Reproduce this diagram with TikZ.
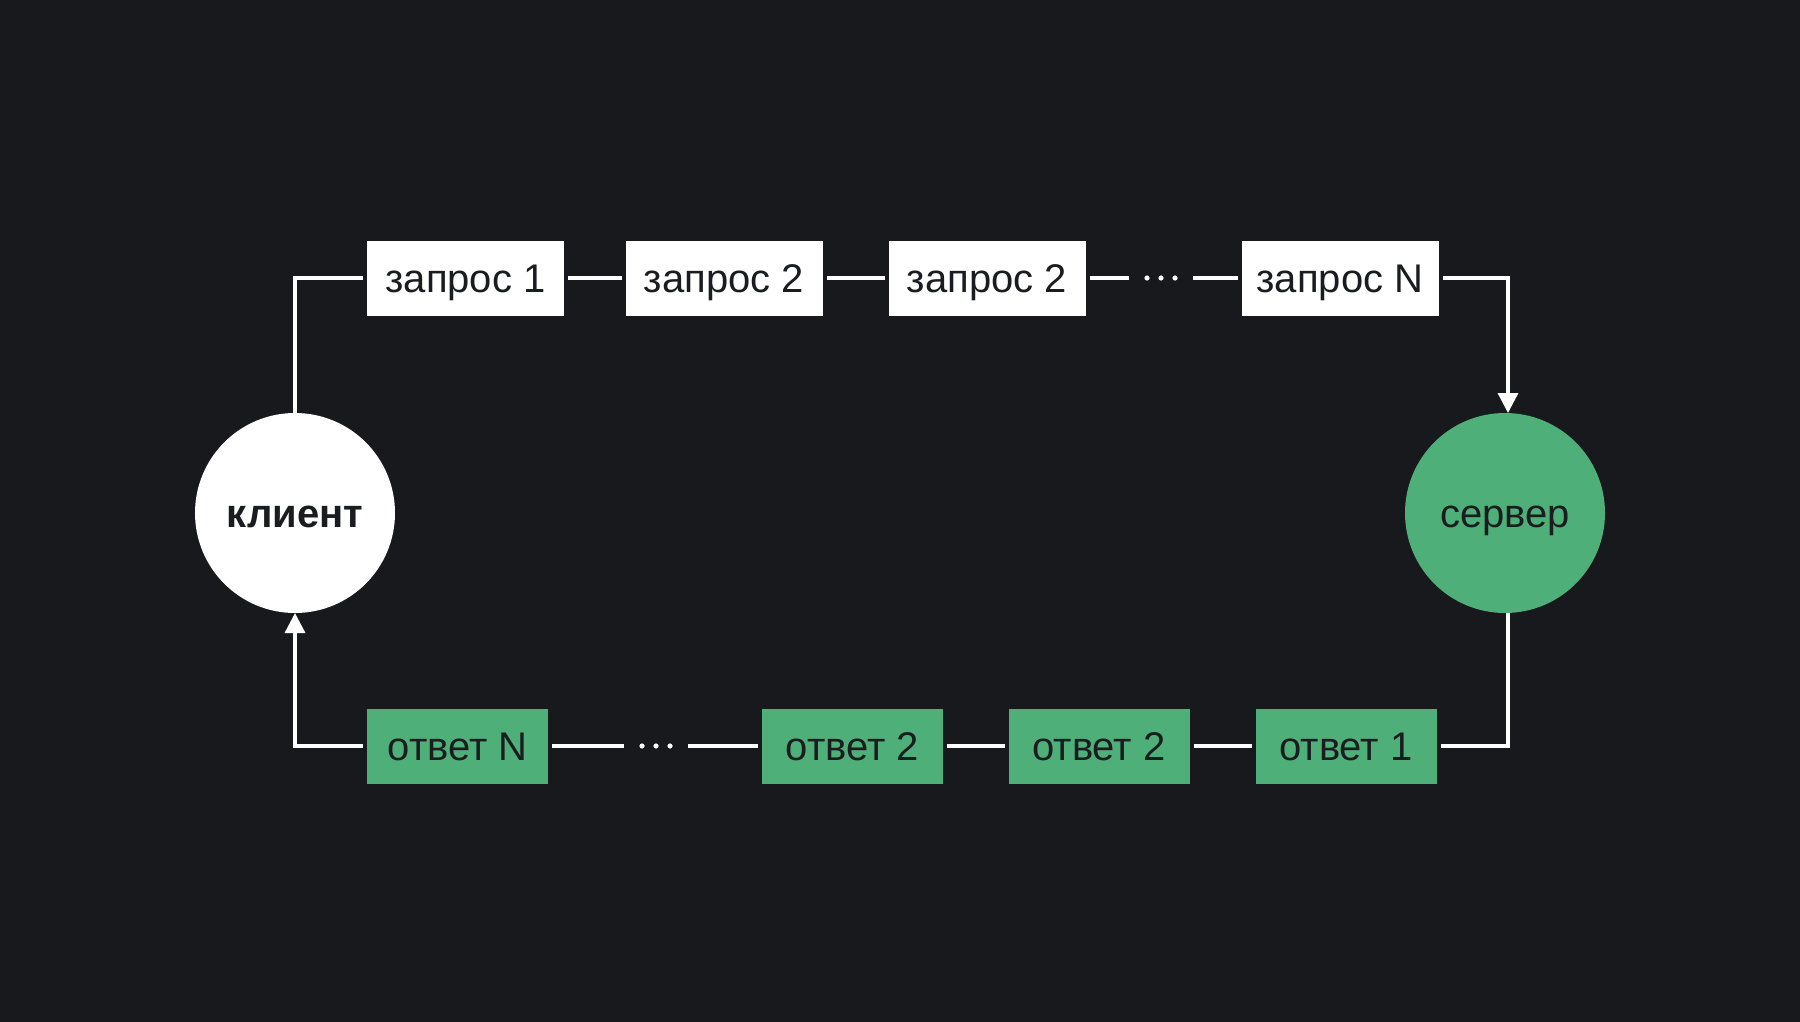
\documentclass[tikz,border=0pt]{standalone}
\usepackage{fontspec}
\setmainfont{Liberation Sans}
\usetikzlibrary{arrows.meta}
\definecolor{bgdark}{HTML}{18191D}
\definecolor{okgreen}{HTML}{4FAF78}
\definecolor{inkdark}{HTML}{1B1C20}

\begin{document}
\begin{tikzpicture}[x=0.5pt,y=-0.5pt,
  wire/.style={white, line width=1.65pt},
  tip/.style={-{Triangle[width=10pt,length=10pt]}},
  label font/.style={font=\fontsize{20}{24}\selectfont, text=inkdark, text height=14.5pt, text depth=0pt},
  reqbox/.style={label font, fill=white, minimum width=98.5pt, minimum height=37.5pt, inner sep=0pt, outer sep=2pt},
  ansbox/.style={label font, fill=okgreen, minimum width=90.5pt, minimum height=37.5pt, inner sep=0pt, outer sep=2pt},
  peer/.style={label font, circle, minimum size=100pt, inner sep=0pt, outer sep=0pt},
  gapdots/.style={minimum width=28pt, minimum height=4pt, inner sep=0pt, outer sep=2pt}
]

% Background
\fill[bgdark] (0,0) rectangle (1800,1022);

% Client and server
\node[peer, fill=white, font=\fontsize{20}{24}\selectfont\bfseries] (client) at (295,513) {клиент};
\node[peer, fill=okgreen] (server) at (1505,513) {сервер};

% Requests
\node[reqbox] (q1) at (465.5,278) {запрос 1};
\node[reqbox] (q2) at (724,278) {запрос 2};
\node[reqbox] (q3) at (987,278) {запрос 2};
\node[gapdots] (dq) at (1161,278) {};
\node[reqbox] (qn) at (1340,278) {запрос N};

% Responses
\node[ansbox] (an) at (457.5,746) {ответ N};
\node[gapdots] (da) at (656,746) {};
\node[ansbox] (a2a) at (852.5,746) {ответ 2};
\node[ansbox] (a2b) at (1099,746) {ответ 2};
\node[ansbox] (a1) at (1346,746) {ответ 1};

% Dots in the gaps
\foreach \g in {dq,da}
  \foreach \dx in {-14,0,14}
    \fill[white] ([xshift=\dx*0.5pt]\g.center) circle (1.3pt);

% Top chain
\draw[wire] (client.north) |- (q1.west);
\draw[wire] (q1) -- (q2);
\draw[wire] (q2) -- (q3);
\draw[wire] (q3) -- (dq);
\draw[wire] (dq) -- (qn);
\draw[wire, tip] (qn.east) -| ([xshift=1.5pt]server.north);

% Bottom chain
\draw[wire] ([xshift=1.5pt]server.south) |- (a1.east);
\draw[wire] (a1) -- (a2b);
\draw[wire] (a2b) -- (a2a);
\draw[wire] (a2a) -- (da);
\draw[wire] (da) -- (an);
\draw[wire, tip] (an.west) -| (client.south);

\end{tikzpicture}
\end{document}
